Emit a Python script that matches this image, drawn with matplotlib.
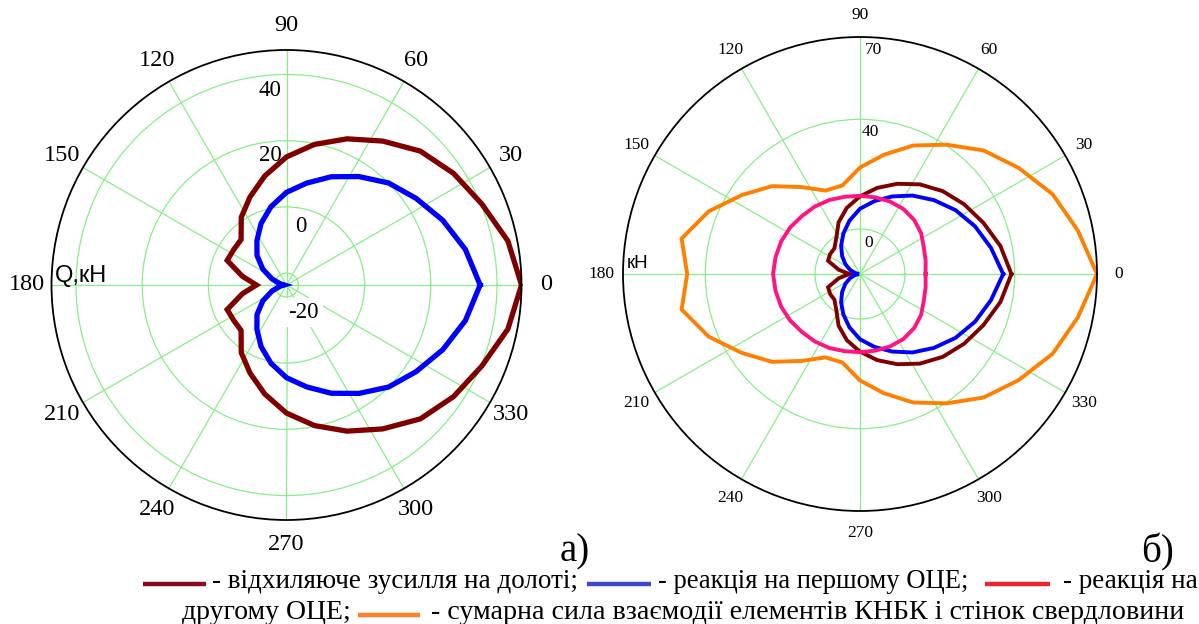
import numpy as np
import matplotlib
matplotlib.use("Agg")
import matplotlib.pyplot as plt
from matplotlib.lines import Line2D

# ---------------- data ----------------
angles_deg = np.arange(0, 360.01, 11.25)          # 33 sample angles, 0..360

# (a) left chart
left_deflect = [47.4, 44.6, 40.3, 37.1, 33.6, 28.7, 24.2, 19.7, 15.1, 10.0, 5.2, 1.0,
                -4.2, -4.4, -4.2, -10.0, -14.5,
                -10.0, -4.2, -4.4, -4.2, 1.0, 5.2, 10.0, 15.1, 19.7, 24.2, 28.7,
                33.6, 37.1, 40.3, 44.6, 47.4]
left_first = [34.9, 31.5, 27.5, 23.5, 20.0, 15.8, 11.8, 7.8, 4.4, 0.5, -3.5, -7.5,
              -11.0, -15.0, -18.9, -21.5, -22.9,
              -21.5, -18.9, -15.0, -11.0, -7.5, -3.5, 0.5, 4.4, 7.8, 11.8, 15.8,
              20.0, 23.5, 27.5, 31.5, 34.9]

# (b) right chart
right_deflect = [38.8, 35.8, 32.3, 29.3, 26.3, 22.9, 19.2, 15.6, 11.9, 8.2, 4.0, -0.8,
                 -3.2, -3.3, -3.8, -8.5, -12.5,
                 -8.5, -3.8, -3.3, -3.2, -0.8, 4.0, 8.2, 11.9, 15.6, 19.2, 22.9,
                 26.3, 29.3, 32.3, 35.8, 38.8]
right_first = [35.8, 32.3, 29.0, 25.5, 21.7, 18.0, 14.2, 10.7, 7.4, 3.4, -0.5, -4.0,
               -7.2, -10.0, -12.5, -14.5, -16.0,
               -14.5, -12.5, -10.0, -7.2, -4.0, -0.5, 3.4, 7.4, 10.7, 14.2, 18.0,
               21.7, 25.5, 29.0, 32.3, 35.8]
right_second = [7.5, 8.0, 8.8, 10.4, 11.5, 12.1, 12.2, 12.1, 12.1, 12.3, 12.8, 13.2,
                13.5, 14.2, 14.7, 15.0, 15.3,
                15.0, 14.7, 14.2, 13.5, 13.2, 12.8, 12.3, 12.1, 12.1, 12.2, 12.1,
                11.5, 10.4, 8.8, 8.0, 7.5]
right_total = [70.0, 64.6, 59.6, 53.2, 47.3, 40.3, 34.3, 27.9, 22.4, 16.5, 16.5, 21.7,
               28.9, 35.4, 43.3, 49.9, 46.6,
               49.9, 43.3, 35.4, 28.9, 21.7, 16.5, 16.5, 22.4, 27.9, 34.3, 40.3,
               47.3, 53.2, 59.6, 64.6, 70.0]

theta_ticks = list(range(0, 360, 30))
left_rlim = (-23.6, 47.4)
left_rticks = [-20, 0, 20, 40]
right_rlim = (-16.4, 70.0)
right_rticks = [0, 40]

legend_labels = ["- відхиляюче зусилля на долоті;", "- реакція на першому ОЦЕ;",
                 "- реакція на", "другому ОЦЕ;",
                 "- сумарна сила взаємодії елементів КНБК і стінок свердловини"]

# ---------------- styling ----------------
W, H = 1199, 624
SERIF = ["Liberation Serif", "DejaVu Serif"]
SANS = ["Liberation Sans", "DejaVu Sans"]
GRID = "#86f086"
C_BROWN = "#800000"
C_BLUE = "#0000ff"
C_PINK = "#ff1480"
C_ORANGE = "#ff8000"

fig = plt.figure(figsize=(W / 100, H / 100), dpi=100)


def px_axes(cx, cy, r):
    return fig.add_axes([(cx - r) / W, (H - cy - r) / H, 2 * r / W, 2 * r / H],
                        projection="polar")


def setup(ax, rlim, rticks, fs, pad):
    ax.set_theta_zero_location("E")
    ax.set_rlim(*rlim)
    ax.set_rticks(rticks)
    ax.set_yticklabels([])
    ax.set_thetagrids(theta_ticks, [str(t) for t in theta_ticks],
                      fontsize=fs, family=SERIF)
    ax.tick_params(axis="x", pad=pad)
    ax.grid(True, color=GRID, linewidth=0.9)
    ax.spines["polar"].set_color("black")
    ax.spines["polar"].set_linewidth(1.3)
    ax.set_facecolor("white")


th = np.deg2rad(angles_deg)

# ---- left ----
axL = px_axes(286.5, 285, 235)
setup(axL, left_rlim, left_rticks, 17.5, 7)
axL.plot(th, left_deflect, color=C_BROWN, lw=3.8, solid_joinstyle="miter")
axL.plot(th, left_first, color=C_BLUE, lw=3.8, solid_joinstyle="miter")
rl_kw = dict(textcoords="offset pixels", fontsize=16.5, family=SERIF)
axL.annotate("40", xy=(np.pi / 2, 40), xytext=(-5, -6), ha="right", va="top", **rl_kw)
axL.annotate("20", xy=(np.pi / 2, 20), xytext=(-5, -4), ha="right", va="top", **rl_kw)
axL.annotate("0", xy=(np.pi / 2, 0), xytext=(9, -9), ha="left", va="top", **rl_kw)
axL.annotate("-20", xy=(3 * np.pi / 2, -20), xytext=(2, -5), ha="left", va="top",
             bbox=dict(facecolor="white", edgecolor="none", pad=3), **rl_kw)
fig.text(55 / W, 1 - 282 / H, "Q,кН", fontsize=17, family=SANS, va="baseline")
fig.text(560 / W, 1 - 561 / H, "а)", fontsize=28, family=SERIF, va="baseline")

# ---- right ----
axR = px_axes(860, 274, 237)
setup(axR, right_rlim, right_rticks, 12.5, 5)
axR.plot(th, right_total, color=C_ORANGE, lw=2.8, solid_joinstyle="miter")
axR.plot(th, right_deflect, color=C_BROWN, lw=2.8, solid_joinstyle="miter")
axR.plot(th, right_first, color=C_BLUE, lw=2.8, solid_joinstyle="miter")
axR.plot(th, right_second, color=C_PINK, lw=2.8, solid_joinstyle="miter")
rr_kw = dict(textcoords="offset pixels", fontsize=12.5, family=SERIF)
axR.annotate("70", xy=(np.pi / 2, 70), xytext=(5, -5), ha="left", va="top", **rr_kw)
axR.annotate("40", xy=(np.pi / 2, 40), xytext=(2, -5), ha="left", va="top", **rr_kw)
axR.annotate("0", xy=(np.pi / 2, 0), xytext=(4, -6), ha="left", va="top", **rr_kw)
fig.text(627 / W, 1 - 268 / H, "кН", fontsize=13.5, family=SANS, va="baseline")
fig.text(1141 / W, 1 - 562 / H, "б)", fontsize=28, family=SERIF, va="baseline")

# ---- legend (text with coloured dashes) ----
def dash(x0, x1, y, color):
    fig.add_artist(Line2D([x0 / W, x1 / W], [1 - y / H, 1 - y / H], color=color,
                          lw=3.2, transform=fig.transFigure, solid_capstyle="butt"))


def ltext(x, y, s, fs=19.5):
    fig.text(x / W, 1 - y / H, s, fontsize=fs, family=SERIF, va="baseline", ha="left")


dash(143, 206, 584, "#8a0a1e")
ltext(212, 588, legend_labels[0])
dash(587, 651, 584, "#4048cc")
ltext(658, 588, legend_labels[1], 19.2)
dash(985, 1050, 584, "#ee2228")
ltext(1063, 588, legend_labels[2])
ltext(182, 619, legend_labels[3], 20)
dash(358, 420, 615, "#ff8028")
ltext(431, 619, legend_labels[4], 20.2)

fig.savefig("out.png", dpi=100, facecolor="white")
